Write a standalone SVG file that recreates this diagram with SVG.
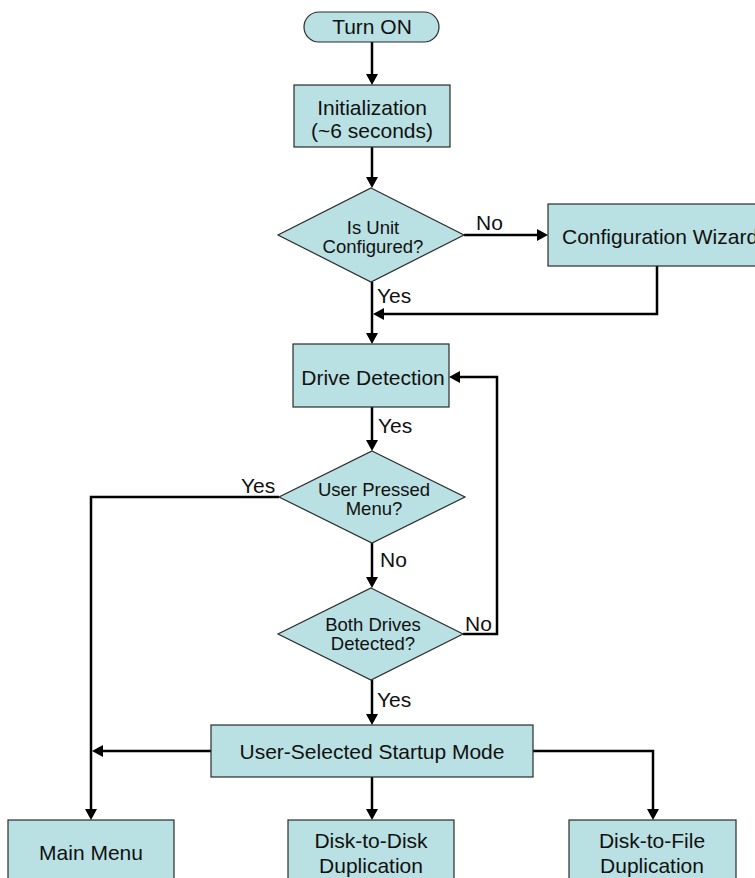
<svg xmlns="http://www.w3.org/2000/svg" width="755" height="878" viewBox="0 0 755 878">
<style>
.n{fill:#B9E0E2;stroke:#2b2b2b;stroke-width:1.2}
.t{font-family:"Liberation Sans",Arial,sans-serif;font-size:21px;fill:#111;text-anchor:middle}
.d{font-family:"Liberation Sans",Arial,sans-serif;font-size:18.5px;fill:#111;text-anchor:middle}
.l{font-family:"Liberation Sans",Arial,sans-serif;font-size:21px;fill:#111}
.c{fill:none;stroke:#000;stroke-width:2.5;marker-end:url(#ah)}
</style>
<defs>
<marker id="ah" markerUnits="userSpaceOnUse" markerWidth="12" markerHeight="13" refX="6" refY="6.5" orient="auto">
<path d="M0,0.5 L11,6.5 L0,12.5 z" fill="#000"/>
</marker>
</defs>
<rect width="755" height="878" fill="#fff"/>
<g id="connectors">
<path class="c" d="M372,42 V80"/>
<path class="c" d="M372,147 V183"/>
<path class="c" d="M464,235 H543"/>
<path class="c" d="M372,282 V339"/>
<path class="c" d="M657,266 V314 H378"/>
<path class="c" d="M372,407 V446"/>
<path class="c" d="M279,497 H91 V815"/>
<path class="c" d="M372,543 V583"/>
<path class="c" d="M463,634 H497 V377 H454"/>
<path class="c" d="M372,680 V720"/>
<path class="c" d="M211,751 H97"/>
<path class="c" d="M372,777 V815"/>
<path class="c" d="M533,751 H653 V815"/>
</g>
<g id="labels">
<text class="l" x="476" y="230">No</text>
<text class="l" x="377" y="303">Yes</text>
<text class="l" x="378" y="433">Yes</text>
<text class="l" x="241" y="493">Yes</text>
<text class="l" x="380" y="567">No</text>
<text class="l" x="465" y="631">No</text>
<text class="l" x="377" y="707">Yes</text>
</g>
<g id="turn-on">
<rect class="n" x="304" y="12" width="135" height="30" rx="15" ry="15"/>
<text class="t" x="372" y="34">Turn ON</text>
</g>
<g id="initialization">
<rect class="n" x="294" y="85" width="156" height="62"/>
<text class="t" x="372" y="115">Initialization</text>
<text class="t" x="372" y="138">(~6 seconds)</text>
</g>
<g id="is-unit-configured">
<polygon class="n" points="371,188 464,235 371,282 278,235"/>
<text class="d" x="373" y="234">Is Unit</text>
<text class="d" x="373" y="253">Configured?</text>
</g>
<g id="configuration-wizard">
<rect class="n" x="548" y="204" width="240" height="62"/>
<text class="l" x="562" y="244">Configuration Wizard</text>
</g>
<g id="drive-detection">
<rect class="n" x="293" y="344" width="156" height="63"/>
<text class="t" x="373" y="385">Drive Detection</text>
</g>
<g id="user-pressed-menu">
<polygon class="n" points="372,451 465,497 372,543 279,497"/>
<text class="d" x="374" y="496">User Pressed</text>
<text class="d" x="374" y="515">Menu?</text>
</g>
<g id="both-drives-detected">
<polygon class="n" points="371,588 463,634 371,680 278,634"/>
<text class="d" x="373" y="631">Both Drives</text>
<text class="d" x="373" y="650">Detected?</text>
</g>
<g id="user-selected-startup-mode">
<rect class="n" x="211" y="725" width="322" height="52"/>
<text class="t" x="372" y="759">User-Selected Startup Mode</text>
</g>
<g id="main-menu">
<rect class="n" x="8" y="820" width="166" height="70"/>
<text class="t" x="91" y="860">Main Menu</text>
</g>
<g id="disk-to-disk">
<rect class="n" x="288" y="820" width="166" height="70"/>
<text class="t" x="371" y="848">Disk-to-Disk</text>
<text class="t" x="371" y="873">Duplication</text>
</g>
<g id="disk-to-file">
<rect class="n" x="569" y="820" width="167" height="70"/>
<text class="t" x="652" y="848">Disk-to-File</text>
<text class="t" x="652" y="873">Duplication</text>
</g>
</svg>
